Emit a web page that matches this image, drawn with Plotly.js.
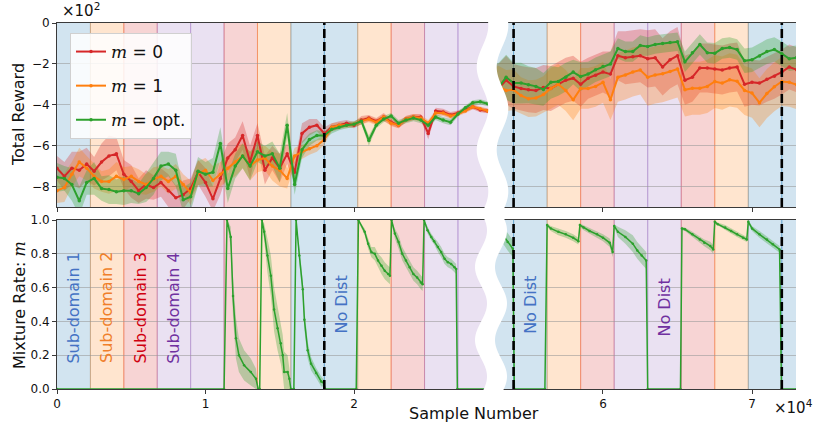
<!DOCTYPE html>
<html>
<head>
<meta charset="utf-8">
<script src="https://cdn.plot.ly/plotly-3.0.1.min.js"></script>
<style>html,body{margin:0;padding:0;background:#fff;}#plot{width:822px;height:439px;}</style>
</head>
<body>
<div id="plot"></div>
<script>
// ---------------- DATA ----------------
// Sample numbers (top panels), left and right part of the broken axis
const xLeft = [0,500,1000,1500,2000,2500,3000,3500,4000,4500,5000,5500,6000,6500,7000,7500,8000,8500,9000,
  9500,10000,10500,11000,11500,12000,12500,13000,13500,14000,14500,15000,15500,16000,16500,17000,17500,18000,
  18500,19000,19500,20000,20500,21000,21500,22000,22500,23000,23500,24000,24500,25000,25500,26000,26500,27000,27500,28000,28500,29000];
const xRight = [52500,53000,53500,54000,54500,55000,55500,56000,56500,57000,
  57500,58000,58500,59000,59500,60000,60500,61000,61500,62000,62500,
  63000,63500,64000,64500,65000,65500,66000,66500,67000,67500,
  68000,68500,69000,69500,70000,70500,71000,71500,72000,72500,73000];

// Total reward (x10^2), mean values
const rewardM0Left = [-7.1,-7.5,-7.1,-7.2,-6.9,-7.25,-6.8,-6.5,-6.4,-7.4,-7.75,-8.2,-7.9,-8.05,-7.8,-8.2,-8.55,-8.4,-8.1,
  -7.3,-7.8,-8.6,-7.6,-6.6,-6.2,-5.5,-6.8,-5.5,-7.2,-6.6,-7.1,-6.4,-7.3,-5.4,-5.1,-5.0,-5.4,
  -5.1,-5.0,-4.9,-5.0,-4.75,-4.65,-4.8,-4.6,-4.85,-5.0,-4.7,-4.6,-4.6,-5.4,-4.3,-4.35,-4.5,-4.4,-4.25,-4.1,-4.25,-4.3];
const rewardM1Left = [-8.2,-8.05,-7.4,-6.8,-7.1,-7.5,-7.75,-7.75,-7.5,-7.65,-7.5,-7.75,-7.9,-7.65,-7.5,-7.75,-7.5,-7.9,-8.3,
  -7.35,-7.2,-7.7,-7.4,-7.1,-6.8,-6.5,-7.0,-6.7,-6.6,-7.0,-7.2,-7.6,-6.5,-6.3,-6.15,-6.0,-5.7,
  -5.1,-5.0,-5.0,-4.95,-4.8,-4.7,-4.85,-4.6,-4.9,-5.0,-4.7,-4.6,-4.65,-4.9,-4.4,-4.4,-4.55,-4.45,-4.3,-4.1,-4.2,-4.3];
const rewardOptLeft = [-7.55,-7.6,-7.9,-8.7,-7.8,-7.6,-8.1,-8.15,-8.25,-8.2,-8.2,-8.35,-8.05,-7.6,-7.0,-6.9,-7.2,-8.65,-8.5,
  -7.25,-7.4,-7.3,-5.9,-8.1,-7.0,-6.5,-7.0,-6.3,-6.5,-6.4,-7.1,-5.0,-7.9,-6.2,-5.7,-5.5,-5.5,
  -5.2,-5.1,-5.0,-4.95,-4.8,-5.75,-5.0,-4.7,-4.55,-4.9,-4.75,-4.65,-4.75,-5.0,-4.6,-4.75,-4.85,-4.45,-4.15,-3.9,-3.85,-3.95];
const rewardM0Right = [-3.3,-3.19,-2.8,-3.1,-3.2,-3.27,-3.3,-3.15,-3.2,-3.0,
  -2.8,-2.7,-3.0,-2.7,-2.55,-2.4,-2.5,-1.6,-1.7,-1.65,-1.6,
  -1.75,-1.7,-2.15,-1.8,-1.6,-2.8,-2.65,-2.2,-2.2,-2.25,
  -2.3,-2.2,-2.15,-3.0,-2.9,-2.94,-2.75,-2.6,-2.4,-2.15,-2.29];
const rewardM1Right = [-3.2,-3.1,-3.3,-3.27,-3.55,-3.7,-3.67,-3.5,-3.2,-3.0,
  -3.3,-3.76,-3.2,-3.2,-3.1,-2.9,-3.75,-2.65,-2.54,-2.4,-2.3,
  -2.65,-2.54,-2.48,-2.37,-2.25,-3.27,-3.19,-3.19,-3.1,-2.86,
  -2.94,-2.78,-2.85,-3.3,-3.43,-3.9,-3.45,-3.12,-2.86,-2.9,-3.02];
const rewardOptRight = [-3.3,-3.15,-2.65,-2.94,-2.94,-3.02,-3.1,-3.25,-2.9,-2.86,
  -2.65,-2.4,-2.62,-2.5,-2.29,-2.13,-2.0,-1.25,-1.4,-1.4,-1.1,
  -1.15,-1.05,-1.0,-0.95,-0.92,-1.9,-1.45,-1.05,-1.45,-1.48,
  -1.25,-1.2,-1.3,-1.85,-1.8,-1.62,-1.4,-1.3,-1.5,-1.75,-1.7];

// Spread (half width of shaded band, x10^2)
const spreadM0Left = [0.6,0.7,0.8,0.9,0.8,0.7,0.9,1.0,0.8,0.7,0.8,0.6,0.7,0.6,0.7,0.8,0.6,0.7,0.5,
  0.6,0.7,0.6,0.8,0.7,0.6,0.7,0.8,0.6,0.7,0.6,0.7,0.5,0.5,0.5,0.4,0.3,0.3,
  0.2,0.2,0.15,0.15,0.2,0.15,0.15,0.2,0.15,0.15,0.15,0.15,0.15,0.3,0.15,0.15,0.15,0.12,0.12,0.12,0.12,0.12];
const spreadM1Left = [0.6,0.7,0.6,0.7,0.6,0.6,0.5,0.6,0.7,0.6,0.5,0.6,0.5,0.6,0.5,0.6,0.6,0.5,0.6,
  0.6,0.6,0.7,0.6,0.6,0.7,0.6,0.7,0.6,0.6,0.7,0.8,0.5,0.4,0.35,0.3,0.3,0.25,
  0.2,0.15,0.15,0.15,0.15,0.15,0.15,0.15,0.15,0.15,0.15,0.15,0.15,0.15,0.15,0.15,0.15,0.12,0.12,0.12,0.12,0.12];
const spreadOptLeft = [0.7,0.6,0.8,0.7,0.6,0.8,0.6,0.7,0.6,0.7,0.6,0.5,0.7,0.8,0.7,0.6,0.8,0.6,0.7,
  0.7,0.6,0.7,0.8,0.7,0.6,0.6,0.7,0.5,0.5,0.6,0.7,0.6,0.5,0.4,0.3,0.25,0.2,
  0.2,0.15,0.15,0.15,0.15,0.25,0.15,0.15,0.15,0.15,0.15,0.15,0.15,0.15,0.15,0.15,0.15,0.12,0.12,0.12,0.12,0.12];
const spreadM0Right = [1.2,1.2,1.2,1.1,1.1,1.1,1.1,1.1,1.1,1.1,
  1.1,1.1,1.1,1.0,1.0,1.0,1.1,1.2,1.3,1.3,1.3,
  1.4,1.4,1.4,1.4,1.4,1.2,1.2,1.2,1.2,1.2,
  1.2,1.2,1.2,1.1,1.1,1.1,1.1,1.1,1.1,1.1,1.1];
const spreadM1Right = [1.0,1.0,1.0,1.0,0.9,0.9,0.9,0.9,1.0,1.0,
  1.0,1.0,1.0,1.0,1.0,1.0,1.0,1.2,1.2,1.2,1.2,
  1.4,1.4,1.4,1.4,1.4,1.3,1.3,1.3,1.3,1.3,
  1.3,1.3,1.3,1.2,1.2,1.2,1.2,1.2,1.2,1.2,1.2];
const spreadOptRight = [1.2,1.2,1.1,1.0,1.0,0.9,0.9,0.8,0.8,0.7,
  0.7,0.6,0.7,0.6,0.6,0.6,0.6,0.5,0.5,0.5,0.5,
  0.45,0.45,0.45,0.45,0.45,0.5,0.5,0.5,0.5,0.5,
  0.5,0.5,0.5,0.6,0.6,0.6,0.6,0.6,0.6,0.6,0.6];

// Mixture rate m (optimised), bottom panels
const mixXLeft = [0,11250,11450,11700,11850,12050,12250,12600,13050,13400,13550,13650,13800,13950,14170,14400,14620,14850,15070,15200,
  15300,15530,15650,15750,15950,16100,16320,16550,16660,16880,17110,17450,17790,17970,18050,20150,20300,20720,20950,21170,
  21400,21620,21850,22070,22300,22420,22530,22750,23000,23250,23500,23750,24000,24250,24500,24620,24720,24950,25200,25400,
  25650,25870,26100,26320,26540,26770,26880,26960,29000];
const mixLeft = [0,0,1.0,0.9,0.55,0.3,0.2,0.14,0.1,0.06,0,0,1.0,0.93,0.79,0.67,0.47,0.36,0.27,0.2,
  0.1,0.1,0.06,0,0,1.0,0.79,0.59,0.41,0.23,0.15,0.095,0.045,0.035,0,0,1.0,0.93,0.86,0.81,
  0.8,0.76,0.73,0.70,0.68,0.67,1.0,0.92,0.87,0.8,0.76,0.72,0.68,0.66,0.63,0.62,1.0,0.94,0.9,0.875,
  0.84,0.81,0.77,0.75,0.74,0.72,0.71,0,0];
const mixSpreadLeft = [0,0,0.02,0.06,0.12,0.12,0.1,0.09,0.08,0.06,0,0,0.02,0.05,0.1,0.12,0.13,0.13,0.12,0.12,
  0.12,0.1,0.06,0,0,0.01,0.05,0.05,0.06,0.05,0.04,0.03,0.03,0.02,0,0,0.01,0.02,0.03,0.03,
  0.04,0.04,0.05,0.05,0.05,0.05,0.01,0.03,0.04,0.04,0.04,0.04,0.04,0.04,0.04,0.04,0.01,0.02,0.02,0.02,
  0.03,0.03,0.03,0.03,0.03,0.03,0.03,0,0];
const mixXRight = [52400,52900,53300,53600,53950,54050,56100,56250,56500,57000,
  57500,58000,58350,58450,58700,59100,59600,60000,60450,60650,
  60750,61000,61500,62000,62300,62600,62900,63000,65200,65300,
  65500,66000,66500,66800,67200,67400,67500,67700,68200,68600,
  69000,69400,69650,69750,70000,70500,71000,71400,71850,71980,73000];
const mixRight = [0.95,0.94,0.91,0.87,0.83,0,0,0.97,0.95,0.93,
  0.915,0.895,0.875,0.97,0.955,0.935,0.915,0.895,0.865,0.81,
  0.965,0.93,0.9,0.86,0.82,0.79,0.76,0,0,0.95,
  0.945,0.915,0.885,0.865,0.846,0.826,0.99,0.975,0.955,0.935,
  0.915,0.895,0.885,0.99,0.95,0.915,0.885,0.856,0.826,0,0];
const mixSpreadRight = [0.06,0.06,0.05,0.05,0.05,0,0,0.01,0.015,0.02,
  0.02,0.02,0.02,0.01,0.015,0.02,0.02,0.02,0.025,0.03,
  0.01,0.03,0.04,0.05,0.05,0.05,0.05,0,0,0.01,
  0.01,0.015,0.02,0.02,0.025,0.025,0.01,0.01,0.015,0.015,
  0.015,0.015,0.015,0.01,0.015,0.02,0.02,0.02,0.02,0,0];

// Sub-domain schedule (background bands) and evaluation markers
const bandWidth = 2250;
const bandCount = 34;
const bandPattern = ['blue','orange','red','purple','purple','red','orange','blue'];
const dashedX = [18000, 54000, 72000];
const rewardTicks = [-8,-6,-4,-2,0];
const mixTicks = [0,0.2,0.4,0.6,0.8,1.0];
const xTicksLeft = [0,10000,20000], xTickTextLeft = ['0','1','2'];
const xTicksRight = [60000,70000], xTickTextRight = ['6','7'];
const labels = [
  {text:'Sub-domain 1', x:1125, y:0.48, color:'#4472c4', ax:'x3', ay:'y3'},
  {text:'Sub-domain 2', x:3375, y:0.48, color:'#f07f2a', ax:'x3', ay:'y3'},
  {text:'Sub-domain 3', x:5625, y:0.48, color:'#d00010', ax:'x3', ay:'y3'},
  {text:'Sub-domain 4', x:7875, y:0.48, color:'#7030a0', ax:'x3', ay:'y3'},
  {text:'No Dist', x:19125, y:0.5, color:'#4472c4', ax:'x3', ay:'y3'},
  {text:'No Dist', x:55125, y:0.5, color:'#4472c4', ax:'x4', ay:'y4'},
  {text:'No Dist', x:64125, y:0.485, color:'#7030a0', ax:'x4', ay:'y4'}
];

// ---------------- STYLE / LAYOUT ----------------
const W = 822, H = 439, ML = 57, MR = 26, MT = 23, MB = 50;
const PW = W - ML - MR, PH = H - MT - MB;
const split = 0.586;
const rangeL = [0, 29162];
const rangeR = [52420, 72953];
const bandRGB = {blue:[31,119,180], orange:[255,127,14], red:[214,39,40], purple:[148,103,189]};
const colM0 = [214,39,40], colM1 = [255,127,14], colOpt = [44,160,44];
const rgba = (c,a) => `rgba(${c.join(',')},${a})`;

const panels = [
  {xa:'x', ya:'y', range:rangeL},
  {xa:'x2', ya:'y2', range:rangeR},
  {xa:'x3', ya:'y3', range:rangeL},
  {xa:'x4', ya:'y4', range:rangeR}
];

const shapes = [];
for (let i = 0; i < bandCount; i++) {
  const c = bandRGB[bandPattern[i % bandPattern.length]];
  const a = i * bandWidth, b = (i + 1) * bandWidth;
  panels.forEach(p => {
    const x0 = Math.max(a, p.range[0]), x1 = Math.min(b, p.range[1]);
    if (x1 <= x0) return;
    shapes.push({type:'rect', xref:p.xa, yref:p.ya + ' domain', x0:x0, x1:x1, y0:0, y1:1,
      fillcolor:rgba(c,0.2), line:{width:0}, layer:'below'});
    [a, b].forEach(e => {
      if (e > p.range[0] && e < p.range[1]) {
        shapes.push({type:'line', xref:p.xa, yref:p.ya + ' domain', x0:e, x1:e, y0:0, y1:1,
          line:{color:rgba(c,0.35), width:1}, layer:'below'});
      }
    });
  });
}
dashedX.forEach(d => {
  panels.forEach(p => {
    if (d > p.range[0] && d < p.range[1]) {
      shapes.push({type:'line', xref:p.xa, yref:p.ya + ' domain', x0:d, x1:d, y0:0, y1:1,
        line:{color:'black', width:2.6, dash:'9px,4px'}, layer:'above'});
    }
  });
});

// white wavy break
function wavePath(pyTop, pyBot, mid, amp, pyRef, period, half) {
  const L = [], R = [];
  for (let py = pyTop; py <= pyBot + 0.01; py += 2) {
    const cx = mid - amp * Math.cos(2 * Math.PI * (py - pyRef) / period);
    L.push([(cx - half - ML) / PW, (MT + PH - py) / PH]);
    R.push([(cx + half - ML) / PW, (MT + PH - py) / PH]);
  }
  const pts = L.concat(R.reverse());
  return 'M ' + pts.map(p => p[0].toFixed(5) + ',' + p[1].toFixed(5)).join(' L ') + ' Z';
}
shapes.push({type:'path', xref:'paper', yref:'paper', path:wavePath(12, 213, 492.5, 5.8, 67, 83, 10),
  fillcolor:'white', line:{width:0}, layer:'above'});
shapes.push({type:'path', xref:'paper', yref:'paper', path:wavePath(213, 395, 491, 6, 267, 73, 10),
  fillcolor:'white', line:{width:0}, layer:'above'});

// ---------------- TRACES ----------------
function bandTrace(xs, ys, sp, col, xa, ya, lo, hi) {
  const up = ys.map((v,i) => Math.min(hi, v + sp[i]));
  const dn = ys.map((v,i) => Math.max(lo, v - sp[i]));
  return {x: xs.concat(xs.slice().reverse()), y: up.concat(dn.reverse()), xaxis:xa, yaxis:ya,
    type:'scatter', mode:'lines', line:{width:0}, fill:'toself', fillcolor:rgba(col,0.3),
    hoverinfo:'skip', showlegend:false};
}
function lineTrace(xs, ys, col, xa, ya, name, show, width, msize) {
  return {x:xs, y:ys, xaxis:xa, yaxis:ya, type:'scatter', mode:'lines+markers',
    line:{color:rgba(col,1), width:width}, marker:{color:rgba(col,1), size:msize},
    name:name, showlegend:show, legendgroup:name};
}
const mathM = '<span style="font-family:DejaVu Serif"><i>m</i></span>';
const nameM0 = mathM + ' = 0', nameM1 = mathM + ' = 1', nameOpt = mathM + ' = opt.';
const INF = 1e9;

const traces = [
  bandTrace(xLeft, rewardM0Left, spreadM0Left, colM0, 'x', 'y', -INF, INF),
  bandTrace(xLeft, rewardM1Left, spreadM1Left, colM1, 'x', 'y', -INF, INF),
  bandTrace(xLeft, rewardOptLeft, spreadOptLeft, colOpt, 'x', 'y', -INF, INF),
  bandTrace(xRight, rewardM0Right, spreadM0Right, colM0, 'x2', 'y2', -INF, INF),
  bandTrace(xRight, rewardM1Right, spreadM1Right, colM1, 'x2', 'y2', -INF, INF),
  bandTrace(xRight, rewardOptRight, spreadOptRight, colOpt, 'x2', 'y2', -INF, INF),
  bandTrace(mixXLeft, mixLeft, mixSpreadLeft, colOpt, 'x3', 'y3', 0, 1),
  bandTrace(mixXRight, mixRight, mixSpreadRight, colOpt, 'x4', 'y4', 0, 1),
  lineTrace(xLeft, rewardM0Left, colM0, 'x', 'y', nameM0, true, 2, 3.5),
  lineTrace(xLeft, rewardM1Left, colM1, 'x', 'y', nameM1, true, 2, 3.5),
  lineTrace(xLeft, rewardOptLeft, colOpt, 'x', 'y', nameOpt, true, 2, 3.5),
  lineTrace(xRight, rewardM0Right, colM0, 'x2', 'y2', nameM0, false, 2, 3.5),
  lineTrace(xRight, rewardM1Right, colM1, 'x2', 'y2', nameM1, false, 2, 3.5),
  lineTrace(xRight, rewardOptRight, colOpt, 'x2', 'y2', nameOpt, false, 2, 3.5),
  lineTrace(mixXLeft, mixLeft, colOpt, 'x3', 'y3', 'mixL', false, 1.5, 2.5),
  lineTrace(mixXRight, mixRight, colOpt, 'x4', 'y4', 'mixR', false, 1.5, 2.5)
];

const axLine = {zeroline:false, showline:true, linecolor:'#3a3a3a', linewidth:1, ticks:'outside', ticklen:4,
  tickcolor:'#3a3a3a', tickfont:{size:12, color:'#111'}};
const gridCol = 'rgba(150,150,150,0.55)';
const topDom = [(MT + PH - 207) / PH, 1];
const botDom = [0, (MT + PH - 220) / PH];

const layout = {
  width:W, height:H, margin:{l:ML, r:MR, t:MT, b:MB, pad:0},
  paper_bgcolor:'white', plot_bgcolor:'rgba(0,0,0,0)',
  font:{family:'DejaVu Sans', color:'#111'},
  showlegend:true,
  legend:{x:(70-ML)/PW, y:(MT+PH-33)/PH, xanchor:'left', yanchor:'top', bgcolor:'rgba(255,255,255,0.85)',
    bordercolor:'#d0d0d0', borderwidth:1, font:{size:17, color:'#111'}, tracegroupgap:9, itemwidth:30},
  xaxis: Object.assign({}, axLine, {domain:[0,split], range:rangeL, anchor:'y', mirror:true, showgrid:false,
    tickvals:xTicksLeft, showticklabels:false}),
  xaxis2: Object.assign({}, axLine, {domain:[split,1], range:rangeR, anchor:'y2', mirror:true, showgrid:false,
    tickvals:xTicksRight, showticklabels:false}),
  xaxis3: Object.assign({}, axLine, {domain:[0,split], range:rangeL, anchor:'y3', mirror:true, showgrid:false,
    tickvals:xTicksLeft, ticktext:xTickTextLeft}),
  xaxis4: Object.assign({}, axLine, {domain:[split,1], range:rangeR, anchor:'y4', mirror:true, showgrid:false,
    tickvals:xTicksRight, ticktext:xTickTextRight}),
  yaxis: Object.assign({}, axLine, {domain:topDom, range:[-9,0], anchor:'x', showgrid:true, gridcolor:gridCol,
    gridwidth:1, tickvals:rewardTicks}),
  yaxis2: {domain:topDom, range:[-9,0], anchor:'x2', showgrid:true, gridcolor:gridCol, gridwidth:1,
    zeroline:false, showline:false, ticks:'', tickvals:rewardTicks, showticklabels:false},
  yaxis3: Object.assign({}, axLine, {domain:botDom, range:[0,1], anchor:'x3', showgrid:true, gridcolor:gridCol,
    gridwidth:1, tickvals:mixTicks, tickformat:'.1f'}),
  yaxis4: {domain:botDom, range:[0,1], anchor:'x4', showgrid:true, gridcolor:gridCol, gridwidth:1,
    zeroline:false, showline:false, ticks:'', tickvals:mixTicks, showticklabels:false},
  shapes:shapes,
  annotations: [
    {text:'\u00d710<sup>2</sup>', xref:'paper', yref:'paper', x:(60-ML)/PW, y:(MT+PH-22)/PH, xanchor:'left',
      yanchor:'bottom', showarrow:false, font:{size:15}},
    {text:'\u00d710<sup>4</sup>', xref:'paper', yref:'paper', x:(772-ML)/PW, y:(MT+PH-407)/PH, xanchor:'left',
      yanchor:'middle', showarrow:false, font:{size:15}},
    {text:'Sample Number', xref:'paper', yref:'paper', x:(474-ML)/PW, y:(MT+PH-413)/PH, xanchor:'center',
      yanchor:'middle', showarrow:false, font:{size:16}},
    {text:'Total Reward', xref:'paper', yref:'paper', x:(19-ML)/PW, y:(MT+PH-115)/PH, xanchor:'center',
      yanchor:'middle', textangle:-90, showarrow:false, font:{size:16}},
    {text:'Mixture Rate: ' + mathM, xref:'paper', yref:'paper', x:(19-ML)/PW, y:(MT+PH-305)/PH, xanchor:'center',
      yanchor:'middle', textangle:-90, showarrow:false, font:{size:16}}
  ].concat(labels.map(l => ({text:l.text, xref:l.ax, yref:l.ay, x:l.x, y:l.y, textangle:-90, showarrow:false,
      xanchor:'center', yanchor:'middle', font:{size:16, color:l.color}})))
};

Plotly.newPlot('plot', traces, layout, {displayModeBar:false, staticPlot:true});
</script>
</body>
</html>
